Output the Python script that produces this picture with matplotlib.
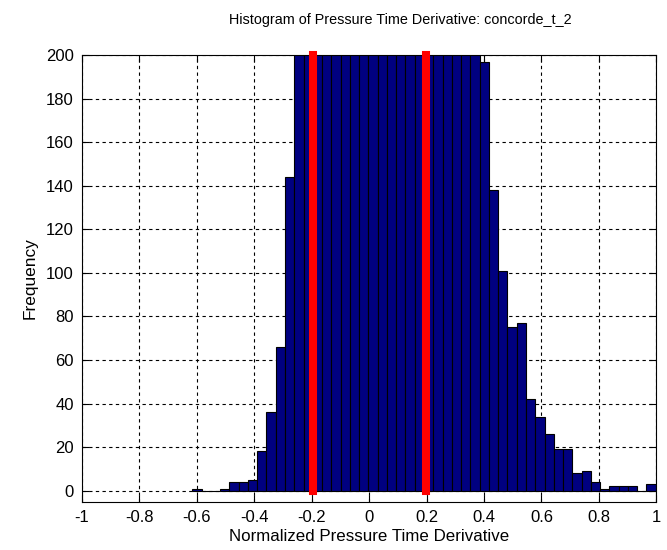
import numpy as np
import matplotlib.pyplot as plt

plt.rcParams['font.family'] = ['Liberation Sans', 'DejaVu Sans']

# data: 50-bin histogram (bins 11-30 run above the 200 limit)
bin_lo, bin_hi, n_bins = -0.616, 0.998, 50
counts = [1, 0, 0, 1, 4, 4, 5, 18, 36, 66,
          144, 260, 330, 400, 470, 530, 580, 610, 630, 640,
          635, 620, 600, 570, 530, 480, 420, 360, 300, 250,
          215, 197, 138, 101, 75, 77, 42, 34, 26, 19,
          19, 8, 9, 4, 1, 2, 2, 2, 0, 3]
limits = [-0.195, 0.199]

title = "Histogram of Pressure Time Derivative: concorde_t_2"
xlabel = "Normalized Pressure Time Derivative"
ylabel = "Frequency"

# %%

edges = np.linspace(bin_lo, bin_hi, n_bins + 1)

fig = plt.figure(figsize=(6.67, 5.5), dpi=100)
ax = fig.add_axes([0.123, 0.088, 0.861, 0.812])

ax.bar(edges[:-1], counts, width=np.diff(edges), align='edge',
       color='#000080', edgecolor='black', linewidth=0.8, zorder=2)

for x in limits:
    ax.plot([x, x], [0, 200], color='red', lw=5.8, zorder=3,
            solid_capstyle='projecting', clip_on=False)

ax.set_xlim(-1, 1)
ax.set_ylim(-5, 200)
ax.set_xticks(np.arange(-1, 1.01, 0.2))
ax.set_xticklabels(['-1', '-0.8', '-0.6', '-0.4', '-0.2', '0',
                    '0.2', '0.4', '0.6', '0.8', '1'])
ax.set_yticks(np.arange(0, 201, 20))

ax.grid(True, color='black', linestyle=(0, (3, 3)), linewidth=0.8)
ax.set_axisbelow(True)
ax.tick_params(direction='in', top=True, right=True, length=5,
               labelsize=12, pad=6)
for s in ax.spines.values():
    s.set_linewidth(0.8)

ax.set_title(title, fontsize=10.4, pad=22, x=0.554)
ax.set_xlabel(xlabel, fontsize=12.2, labelpad=3)
ax.set_ylabel(ylabel, fontsize=12.4, labelpad=6)

fig.savefig('out.png', dpi=100)
